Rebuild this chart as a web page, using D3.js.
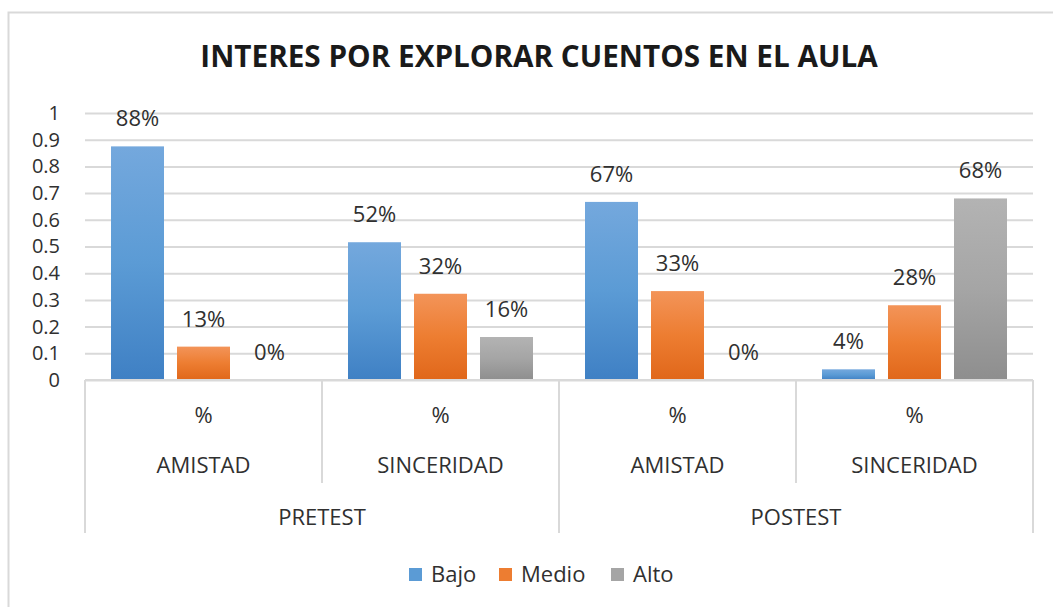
<!DOCTYPE html>
<html>
<head>
<meta charset="utf-8">
<script src="https://cdnjs.cloudflare.com/ajax/libs/d3/7.8.5/d3.min.js"></script>
<style>
    body { margin: 0; background: #fff; }
    text { font-family: "Open Sans", sans-serif; fill: #303030; }
</style>
</head>
<body>
<div id="chart"></div>
<script>
// data
var titleText = "INTERES POR EXPLORAR CUENTOS EN EL AULA";
var outerCategories = ["PRETEST", "POSTEST"];
var innerCategories = ["AMISTAD", "SINCERIDAD"];
var unitLabel = "%";
var seriesNames = ["Bajo", "Medio", "Alto"];
var bajo = [0.875, 0.516, 0.667, 0.04];
var medio = [0.125, 0.323, 0.333, 0.28];
var alto = [0, 0.161, 0, 0.68];
var yTicks = [0, 0.1, 0.2, 0.3, 0.4, 0.5, 0.6, 0.7, 0.8, 0.9, 1];

var seriesColors = {
    Bajo: ["#74a8dd", "#5b9bd5", "#3f80c4"],
    Medio: ["#f39459", "#ed7d31", "#e0671a"],
    Alto: ["#b3b3b3", "#a5a5a5", "#8e8e8e"]
};

var width = 1053, height = 607;
var plotLeft = 85, plotRight = 1033, plotTop = 113, plotBottom = 380;

var svg = d3.select("#chart")
    .append("svg")
    .attr("width", width)
    .attr("height", height);

// chart frame
svg.append("rect")
    .attr("x", 8.5)
    .attr("y", 12.5)
    .attr("width", 1070)
    .attr("height", 620)
    .attr("fill", "none")
    .attr("stroke", "#d9d9d9")
    .attr("stroke-width", 2);

// gradients like excel's default bar fill
var defs = svg.append("defs");
seriesNames.forEach(function (name) {
    var grad = defs.append("linearGradient")
        .attr("id", "grad-" + name)
        .attr("x1", 0).attr("y1", 0)
        .attr("x2", 0).attr("y2", 1);
    grad.append("stop").attr("offset", "0%").attr("stop-color", seriesColors[name][0]);
    grad.append("stop").attr("offset", "50%").attr("stop-color", seriesColors[name][1]);
    grad.append("stop").attr("offset", "100%").attr("stop-color", seriesColors[name][2]);
});

// one group per (outer, inner) pair
var groups = [];
outerCategories.forEach(function (outer) {
    innerCategories.forEach(function (inner) {
        groups.push({ key: outer + "|" + inner, outer: outer, inner: inner });
    });
});
var seriesValues = { Bajo: bajo, Medio: medio, Alto: alto };
groups.forEach(function (g, i) {
    g.values = seriesNames.map(function (name) {
        return { name: name, value: seriesValues[name][i] };
    });
});

var x0 = d3.scaleBand()
    .domain(groups.map(function (d) { return d.key; }))
    .range([plotLeft, plotRight]);

var xOuter = d3.scaleBand()
    .domain(outerCategories)
    .range([plotLeft, plotRight]);

var x1 = d3.scaleBand()
    .domain(seriesNames)
    .range([0, x0.bandwidth()])
    .paddingInner(0.197)
    .paddingOuter(0.394);

var y = d3.scaleLinear()
    .domain([0, 1])
    .range([plotBottom, plotTop]);

// gridlines + tick labels
var yAxis = svg.append("g")
    .attr("transform", "translate(" + plotLeft + ",0)")
    .call(d3.axisLeft(y)
        .tickValues(yTicks)
        .tickSize(-(plotRight - plotLeft))
        .tickPadding(25)
        .tickFormat(function (d) { return String(d); }));

yAxis.select(".domain").remove();
yAxis.selectAll(".tick line")
    .attr("stroke", "#d9d9d9")
    .attr("stroke-width", 2);
yAxis.selectAll(".tick text")
    .attr("font-size", "20px")
    .style("font-family", "'Open Sans', sans-serif")
    .attr("fill", "#303030");

// bars
var groupSel = svg.selectAll(".group")
    .data(groups)
    .enter().append("g")
    .attr("class", "group")
    .attr("transform", function (d) { return "translate(" + x0(d.key) + ",0)"; });

groupSel.selectAll("rect")
    .data(function (d) { return d.values; })
    .enter().append("rect")
    .attr("x", function (d) { return x1(d.name); })
    .attr("y", function (d) { return y(d.value); })
    .attr("width", x1.bandwidth())
    .attr("height", function (d) { return y(0) - y(d.value); })
    .attr("fill", function (d) { return "url(#grad-" + d.name + ")"; });

// data labels
var pct = d3.format(".0%");
groupSel.selectAll(".val")
    .data(function (d) { return d.values; })
    .enter().append("text")
    .attr("class", "val")
    .attr("x", function (d) { return x1(d.name) + x1.bandwidth() / 2; })
    .attr("y", function (d) { return y(d.value) - 20; })
    .attr("text-anchor", "middle")
    .attr("font-size", "22px")
    .text(function (d) { return pct(d.value); });

// category axis
var axisG = svg.append("g").attr("class", "cat-axis");

axisG.append("line")
    .attr("x1", plotLeft).attr("x2", plotRight)
    .attr("y1", y(0)).attr("y2", y(0))
    .attr("stroke", "#d9d9d9")
    .attr("stroke-width", 2);

var bounds = groups.map(function (d, i) {
    return { x: x0(d.key), outerEdge: i === 0 || d.outer !== groups[i - 1].outer };
});
bounds.push({ x: plotRight, outerEdge: true });

axisG.selectAll(".sep")
    .data(bounds)
    .enter().append("line")
    .attr("class", "sep")
    .attr("x1", function (d) { return d.x; })
    .attr("x2", function (d) { return d.x; })
    .attr("y1", y(0))
    .attr("y2", function (d) { return d.outerEdge ? 533 : 483; })
    .attr("stroke", "#d9d9d9")
    .attr("stroke-width", 2);

axisG.selectAll(".unit")
    .data(groups)
    .enter().append("text")
    .attr("x", function (d) { return x0(d.key) + x0.bandwidth() / 2; })
    .attr("y", 423)
    .attr("text-anchor", "middle")
    .attr("font-size", "22px")
    .text(unitLabel);

axisG.selectAll(".inner")
    .data(groups)
    .enter().append("text")
    .attr("x", function (d) { return x0(d.key) + x0.bandwidth() / 2; })
    .attr("y", 473)
    .attr("text-anchor", "middle")
    .attr("font-size", "22px")
    .text(function (d) { return d.inner; });

axisG.selectAll(".outer")
    .data(outerCategories)
    .enter().append("text")
    .attr("x", function (d) { return xOuter(d) + xOuter.bandwidth() / 2; })
    .attr("y", 525)
    .attr("text-anchor", "middle")
    .attr("font-size", "22px")
    .text(function (d) { return d; });

// title
svg.append("text")
    .attr("x", 539)
    .attr("y", 67)
    .attr("text-anchor", "middle")
    .attr("font-size", "29.7px")
    .attr("font-weight", "bold")
    .style("fill", "#1a1a1a")
    .text(titleText);

// legend
var legendItems = [
    { name: "Bajo", x: 409 },
    { name: "Medio", x: 499 },
    { name: "Alto", x: 611 }
];
var legend = svg.append("g").attr("class", "legend");
legend.selectAll("rect")
    .data(legendItems)
    .enter().append("rect")
    .attr("x", function (d) { return d.x; })
    .attr("y", 568)
    .attr("width", 13)
    .attr("height", 13)
    .attr("fill", function (d) { return seriesColors[d.name][1]; });
legend.selectAll("text")
    .data(legendItems)
    .enter().append("text")
    .attr("x", function (d) { return d.x + 22; })
    .attr("y", 582)
    .attr("font-size", "22px")
    .text(function (d) { return d.name; });
</script>
</body>
</html>
